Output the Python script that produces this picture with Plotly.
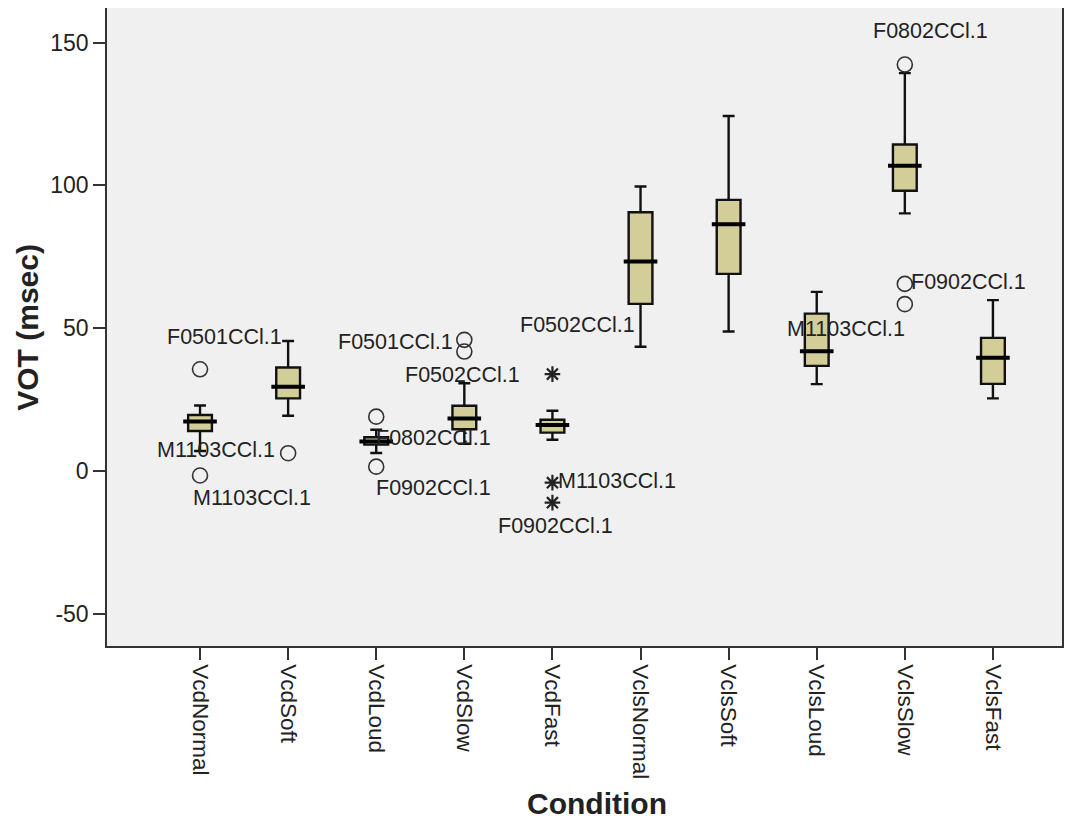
import plotly.graph_objects as go

# ---------------- data ----------------
categories = ['VcdNormal', 'VcdSoft', 'VcdLoud', 'VcdSlow', 'VcdFast',
              'VclsNormal', 'VclsSoft', 'VclsLoud', 'VclsSlow', 'VclsFast']
lower_whisker = [7.0, 19.3, 6.3, 9.5, 10.9, 43.5, 48.8, 30.4, 90.2, 25.4]
q1_values = [14.0, 25.4, 9.2, 14.6, 13.4, 58.5, 69.0, 36.8, 98.1, 30.5]
median_values = [17.3, 29.5, 10.3, 18.4, 16.1, 73.3, 86.4, 41.9, 106.9, 39.6]
q3_values = [19.6, 36.2, 11.8, 22.8, 17.9, 90.6, 94.9, 55.1, 114.3, 46.6]
upper_whisker = [22.9, 45.5, 14.4, 30.7, 21.1, 99.6, 124.3, 62.7, 139.3, 59.8]

outlier_cats = ['VcdNormal', 'VcdNormal', 'VcdSoft', 'VcdLoud', 'VcdLoud',
                'VcdSlow', 'VcdSlow', 'VclsSlow', 'VclsSlow', 'VclsSlow']
outlier_vals = [35.6, -1.6, 6.2, 19.0, 1.5, 45.9, 41.8, 142.3, 65.5, 58.4]
outlier_labels = ['F0501CCl.1', 'M1103CCl.1', 'M1103CCl.1', 'F0802CCl.1', 'F0902CCl.1',
                  'F0501CCl.1', 'F0502CCl.1', 'F0802CCl.1', 'F0902CCl.1', 'M1103CCl.1']

extreme_cats = ['VcdFast', 'VcdFast', 'VcdFast']
extreme_vals = [33.9, -4.1, -11.1]
extreme_labels = ['F0502CCl.1', 'M1103CCl.1', 'F0902CCl.1']

y_ticks = [-50, 0, 50, 100, 150]
y_tick_labels = ['-50', '0', '50', '100', '150']

# ---------------- styling (label offsets in pixels) ----------------
outlier_label_shift = [(24, 32), (52, -22), (-72, 3), (57, -21), (57, -21),
                       (-69, -2), (-2, -23), (26, 34), (64, 2), (-59, -25)]
extreme_label_shift = [(25, 49), (65, 2), (3, -23)]

FONT = 'Liberation Sans, Arial, sans-serif'
BOX_FILL = 'rgb(211,206,151)'
INK = '#222222'
PAGE_OFFSET = 8  # default body margin of the html page

fig = go.Figure()

fig.add_trace(go.Box(
    x=categories, q1=q1_values, median=median_values, q3=q3_values,
    lowerfence=lower_whisker, upperfence=upper_whisker,
    boxpoints=False, fillcolor=BOX_FILL,
    line=dict(color='#111111', width=2.4), width=0.27, whiskerwidth=0.5,
    showlegend=False, hoverinfo='skip'))

# thick median bars
fig.add_trace(go.Scatter(
    x=categories, y=median_values, mode='markers',
    marker=dict(symbol='line-ew', size=24, line=dict(color='black', width=4)),
    showlegend=False, hoverinfo='skip'))

fig.add_trace(go.Scatter(
    x=outlier_cats, y=outlier_vals, mode='markers',
    marker=dict(symbol='circle-open', size=15, color='#333333', line=dict(width=1.6)),
    showlegend=False, hoverinfo='skip'))

fig.add_trace(go.Scatter(
    x=extreme_cats, y=extreme_vals, mode='markers',
    marker=dict(symbol='asterisk-open', size=13, color='#222222', line=dict(width=2.2)),
    showlegend=False, hoverinfo='skip'))

annotations = []
for c, v, t, (dx, dy) in zip(outlier_cats + extreme_cats, outlier_vals + extreme_vals,
                             outlier_labels + extreme_labels,
                             outlier_label_shift + extreme_label_shift):
    annotations.append(dict(x=c, y=v, xref='x', yref='y', text=t, showarrow=False,
                            xanchor='center', yanchor='middle', xshift=dx, yshift=dy,
                            font=dict(family=FONT, size=21.5, color=INK)))

annotations.append(dict(x=-0.084, y=0.5, xref='paper', yref='paper', text='<b>VOT (msec)</b>',
                        textangle=-90, showarrow=False, xanchor='center', yanchor='middle',
                        font=dict(family=FONT, size=30, color=INK)))
annotations.append(dict(x=0.513, y=-0.2476, xref='paper', yref='paper', text='<b>Condition</b>',
                        showarrow=False, xanchor='center', yanchor='middle',
                        font=dict(family=FONT, size=30, color=INK)))

fig.update_layout(
    width=1077 - PAGE_OFFSET, height=821 - PAGE_OFFSET,
    margin=dict(l=107 - PAGE_OFFSET, r=15, t=0, b=175, autoexpand=False),
    paper_bgcolor='white', plot_bgcolor='#F0F0F0',
    font=dict(family=FONT, size=21, color=INK),
    annotations=annotations,
    showlegend=False,
)
fig.update_xaxes(
    type='category', categoryorder='array', categoryarray=categories,
    range=[-1.056, 9.784], showgrid=False, zeroline=False,
    showline=True, linecolor='#333333', linewidth=1.5, mirror=True,
    ticks='outside', ticklen=12, tickwidth=1.5, tickcolor='#333333',
    tickangle=90, tickfont=dict(family=FONT, size=22.5, color=INK))
fig.update_yaxes(
    range=[-61.3, 162.1], tickvals=y_ticks, ticktext=y_tick_labels,
    showgrid=False, zeroline=False,
    showline=True, linecolor='#333333', linewidth=1.5, mirror=True,
    ticks='outside', ticklen=12, tickwidth=1.5, tickcolor='#333333',
    tickfont=dict(family=FONT, size=23, color=INK))

fig.write_html('out.html')
